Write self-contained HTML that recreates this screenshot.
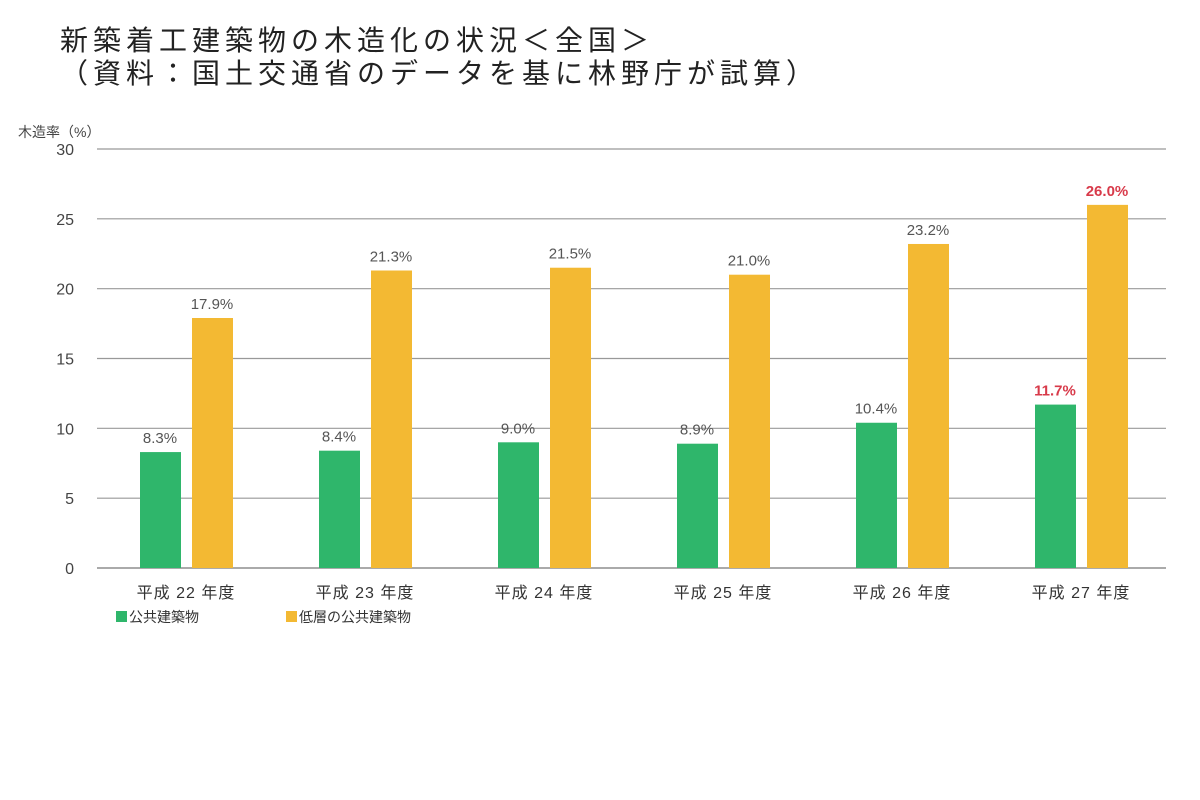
<!DOCTYPE html>
<html><head><meta charset="utf-8">
<style>
body{margin:0;background:#fff;width:1200px;height:800px;overflow:hidden;font-family:"Liberation Sans","Noto Sans CJK JP",sans-serif;}
.t{position:absolute;font-size:28px;letter-spacing:5px;color:#222;white-space:nowrap;line-height:1;}
</style></head>
<body>
<div class="t" style="left:60px;top:27px">新築着工建築物の木造化の状況＜全国＞</div>
<div class="t" style="left:60px;top:60px">（資料：国土交通省のデータを基に林野庁が試算）</div>
<svg id="c" width="1200" height="800" style="position:absolute;left:0;top:0"></svg>
<script>
const categories=["平成 22 年度","平成 23 年度","平成 24 年度","平成 25 年度","平成 26 年度","平成 27 年度"];
const publicVals=[8.3,8.4,9.0,8.9,10.4,11.7];
const lowRiseVals=[17.9,21.3,21.5,21.0,23.2,26.0];
const publicLabels=["8.3%","8.4%","9.0%","8.9%","10.4%","11.7%"];
const lowRiseLabels=["17.9%","21.3%","21.5%","21.0%","23.2%","26.0%"];
const yTicks=[0,5,10,15,20,25,30];
const NS="http://www.w3.org/2000/svg";
const svg=document.getElementById('c');
const y=v=>568-v*(419/30);
const gx=i=>140+i*179;
function mk(t,a){const e=document.createElementNS(NS,t);for(const k in a)e.setAttribute(k,a[k]);svg.appendChild(e);return e;}
yTicks.forEach(v=>{
 const l=mk('line',{x1:97,x2:1166,y1:y(v),y2:y(v),stroke:v===0?'#777':'#999','stroke-width':1.2});
 
 
 const t=mk('text',{x:74,y:y(v)+6,'text-anchor':'end','font-size':16,fill:'#444'});t.textContent=v;
 
 
});
const yt=mk('text',{x:18,y:137,'font-size':14,fill:'#444'});yt.textContent='木造率（%）';


categories.forEach((c,i)=>{
 const x=gx(i);
 const last=i===categories.length-1;
 const b1=mk('rect',{x:x,y:y(publicVals[i]),width:41,height:568-y(publicVals[i]),fill:'#2fb66b'});
 
 
 const b2=mk('rect',{x:x+52,y:y(lowRiseVals[i]),width:41,height:568-y(lowRiseVals[i]),fill:'#f3b933'});
 
 
 const l1=mk('text',{x:x+20,y:y(publicVals[i])-9,'text-anchor':'middle','font-size':15,fill:last?'#d83a4a':'#555','font-weight':last?'bold':'normal'});l1.textContent=publicLabels[i];
 
 
 const l2=mk('text',{x:x+72,y:y(lowRiseVals[i])-9,'text-anchor':'middle','font-size':15,fill:last?'#d83a4a':'#555','font-weight':last?'bold':'normal'});l2.textContent=lowRiseLabels[i];
 
 
 const ct=mk('text',{x:x+46,y:598,'text-anchor':'middle','font-size':16,'letter-spacing':1,fill:'#333'});ct.textContent=c;
 
 
});
const leg=[['#2fb66b','公共建築物',116],['#f3b933','低層の公共建築物',286]];
leg.forEach((d,i)=>{
 const r=mk('rect',{x:d[2],y:611,width:11,height:11,fill:d[0]});
 
 
 const t=mk('text',{x:d[2]+13,y:622,'font-size':14,fill:'#333'});t.textContent=d[1];
 
 
});
</script>
</body></html>
